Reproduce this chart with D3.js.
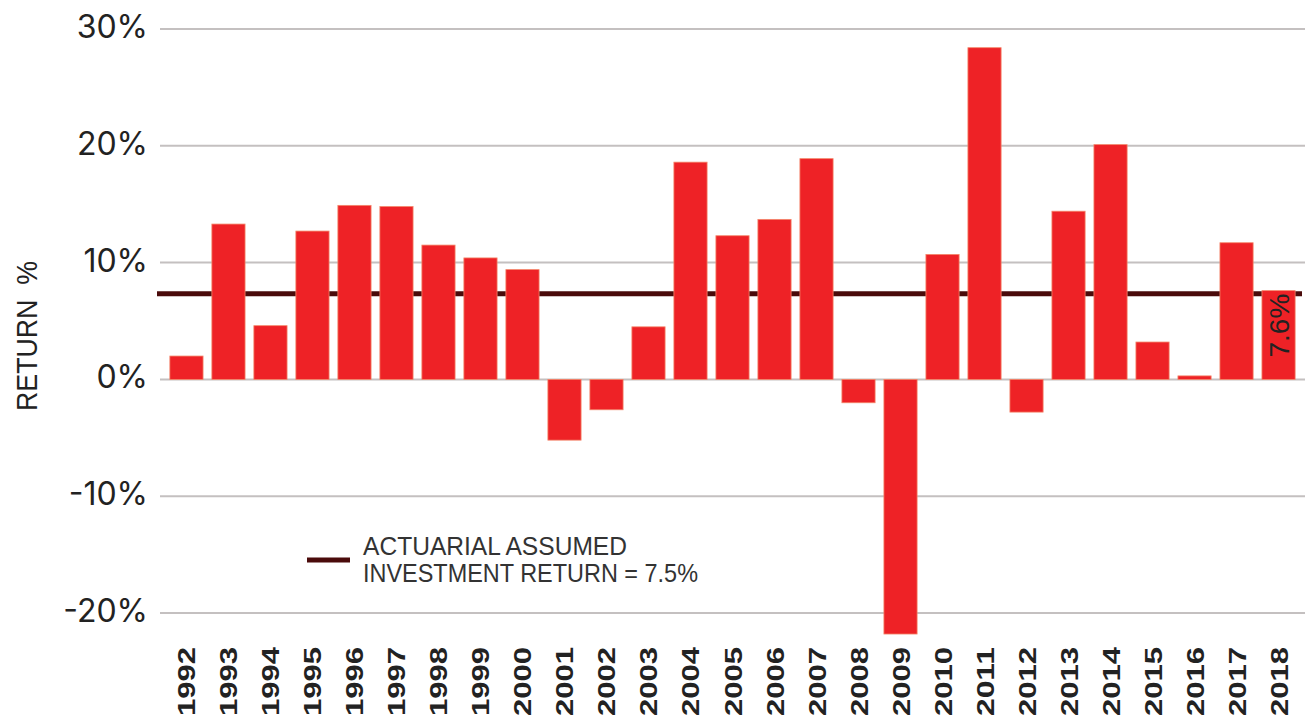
<!DOCTYPE html>
<html>
<head>
<meta charset="utf-8">
<script src="https://cdn.jsdelivr.net/npm/d3@7"></script>
<style>
  html, body { margin: 0; padding: 0; background: #fff; }
  svg { display: block; }
</style>
</head>
<body>
<svg id="chart" width="1307" height="726"></svg>
<script>
const years = ["1992","1993","1994","1995","1996","1997","1998","1999","2000","2001","2002","2003","2004","2005","2006","2007","2008","2009","2010","2011","2012","2013","2014","2015","2016","2017","2018"];
const returns = [2.0, 13.3, 4.6, 12.7, 14.9, 14.8, 11.5, 10.4, 9.4, -5.2, -2.6, 4.5, 18.6, 12.3, 13.7, 18.9, -2.0, -21.8, 10.7, 28.4, -2.8, 14.4, 20.1, 3.2, 0.3, 11.7, 7.6];
const yTicks = [-20, -10, 0, 10, 20, 30];
const yTickLabels = ["-20%", "-10%", "0%", "10%", "20%", "30%"];
const assumedReturn = 7.5;
const legendLines = ["ACTUARIAL ASSUMED", "INVESTMENT RETURN = 7.5%"];
const lastLabel = "7.6%";
const yTitle = "RETURN  %";

const svg = d3.select("#chart");
const left = 160, right = 1305;

const y = d3.scaleLinear().domain([-20, 30]).range([613, 29]);
const x = d3.scaleBand().domain(years).range([left, right]).paddingInner(0.21).paddingOuter(0.235);

// gridlines
svg.append("g").selectAll("line").data(yTicks).join("line")
  .attr("x1", left).attr("x2", right)
  .attr("y1", d => y(d)).attr("y2", d => y(d))
  .attr("stroke", "#c4c0c0").attr("stroke-width", 2);

// y tick labels
svg.append("g").selectAll("text").data(yTicks).join("text")
  .attr("x", 148).attr("y", d => y(d) + 9)
  .attr("text-anchor", "end")
  .attr("font-family", "Inter, 'Open Sans', sans-serif")
  .attr("font-size", 32)
  .attr("fill", "#222")
  .text((d, i) => yTickLabels[i]);

// y title
svg.append("text")
  .attr("transform", `translate(37, 336) rotate(-90)`)
  .attr("text-anchor", "middle")
  .attr("font-family", "'Liberation Sans', Arial, sans-serif")
  .attr("font-size", 29)
  .attr("textLength", 150)
  .attr("lengthAdjust", "spacingAndGlyphs")
  .attr("style", "white-space: pre")
  .attr("fill", "#222")
  .text(yTitle);

// assumed return line (drawn beneath the bars)
svg.append("line")
  .attr("x1", 157).attr("x2", 1302)
  .attr("y1", y(assumedReturn) + 2).attr("y2", y(assumedReturn) + 2)
  .attr("stroke", "#4a0b0b").attr("stroke-width", 5);

// bars
svg.append("g").selectAll("rect").data(years).join("rect")
  .attr("x", d => x(d))
  .attr("width", x.bandwidth())
  .attr("y", (d, i) => y(Math.max(0, returns[i])))
  .attr("height", (d, i) => Math.abs(y(returns[i]) - y(0)))
  .attr("fill", "#ee2226")
  .attr("stroke", "#f4866a").attr("stroke-width", 0.8);

// 2018 label
const lastYear = years[years.length - 1];
svg.append("text")
  .attr("transform", `translate(${x(lastYear) + x.bandwidth() / 2 + 10}, ${y(returns[returns.length - 1]) + 35}) rotate(-90)`)
  .attr("text-anchor", "middle")
  .attr("font-family", "'Liberation Sans', Arial, sans-serif")
  .attr("font-size", 28)
  .attr("fill", "#222")
  .text(lastLabel);

// x labels
svg.append("g").selectAll("text").data(years).join("text")
  .attr("transform", d => `translate(${x(d) + x.bandwidth() / 2 + 9}, 647) rotate(-90)`)
  .attr("text-anchor", "end")
  .attr("font-family", "'Liberation Sans', Arial, sans-serif")
  .attr("font-weight", "bold")
  .attr("font-size", 24)
  .attr("textLength", 69)
  .attr("lengthAdjust", "spacingAndGlyphs")
  .attr("fill", "#222")
  .text(d => d);

// legend
svg.append("line")
  .attr("x1", 307).attr("x2", 350).attr("y1", 560).attr("y2", 560)
  .attr("stroke", "#4a0b0b").attr("stroke-width", 5);
const legendLens = [264, 335];
svg.append("g").selectAll("text").data(legendLines).join("text")
  .attr("x", 363).attr("y", (d, i) => 555 + i * 27)
  .attr("font-family", "'Liberation Sans', Arial, sans-serif")
  .attr("font-size", 25)
  .attr("textLength", (d, i) => legendLens[i])
  .attr("lengthAdjust", "spacingAndGlyphs")
  .attr("fill", "#333")
  .text(d => d);
</script>
</body>
</html>
